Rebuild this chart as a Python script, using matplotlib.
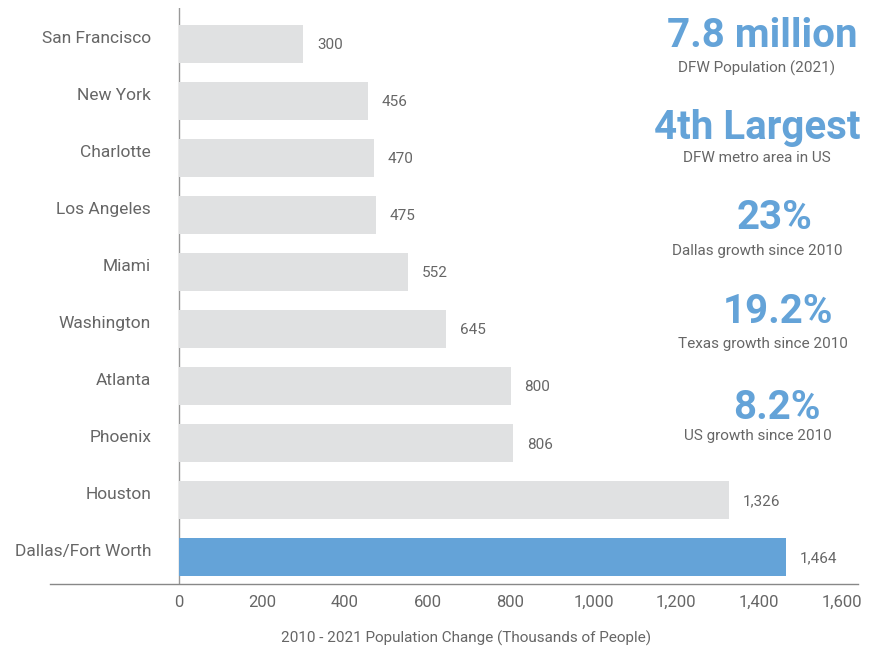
import matplotlib
matplotlib.use("Agg")
import matplotlib.pyplot as plt

cities = ["San Francisco", "New York", "Charlotte", "Los Angeles", "Miami",
          "Washington", "Atlanta", "Phoenix", "Houston", "Dallas/Fort Worth"]
values = [300, 456, 470, 475, 552, 645, 800, 806, 1326, 1464]
value_labels = ["300", "456", "470", "475", "552", "645", "800", "806", "1,326", "1,464"]
xticks = [0, 200, 400, 600, 800, 1000, 1200, 1400, 1600]
xtick_labels = ["0", "200", "400", "600", "800", "1,000", "1,200", "1,400", "1,600"]
xlabel = "2010 - 2021 Population Change (Thousands of People)"
stats_big = ["7.8 million", "4th Largest", "23%", "19.2%", "8.2%"]
stats_small = ["DFW Population (2021)", "DFW metro area in US", "Dallas growth since 2010",
               "Texas growth since 2010", "US growth since 2010"]

BLUE = "#64a3d8"
GRAY_BAR = "#e0e1e2"
TXT = "#666666"
FONT = ["Roboto", "DejaVu Sans"]
NARROW = ["Liberation Sans Narrow", "Roboto", "DejaVu Sans"]

W, H = 883, 649
fig = plt.figure(figsize=(W / 100, H / 100), dpi=100)
ax = fig.add_axes([50 / W, 1 - 584 / H, (858 - 50) / W, (584 - 8) / H])

ypos = list(range(len(cities)))
colors = [GRAY_BAR] * (len(cities) - 1) + [BLUE]
ax.barh(ypos, values, height=0.67, color=colors, zorder=2)

ax.set_xlim(-311, 1638)
ax.set_ylim(9.47, -0.63)

for s in ["top", "right", "left"]:
    ax.spines[s].set_visible(False)
ax.spines["bottom"].set_color("#888888")
ax.spines["bottom"].set_linewidth(1.0)
ax.axvline(0, color="#999999", lw=1.0, zorder=1)

ax.set_yticks([])
ax.set_xticks(xticks)
ax.set_xticklabels(xtick_labels, family=NARROW, fontsize=12, color=TXT)
ax.tick_params(axis="x", length=0, pad=8)

for y, c in zip(ypos, cities):
    ax.annotate(c, xy=(0, y), xytext=(-20, 4), textcoords="offset points",
                ha="right", va="center", fontsize=12.5, color=TXT, family=FONT)

for y, v, lab in zip(ypos, values, value_labels):
    ax.annotate(lab, xy=(v, y), xytext=(10, -1), textcoords="offset points",
                ha="left", va="center", fontsize=11, color=TXT, family=NARROW)

fig.text(466 / W, 1 - 638 / H, xlabel, ha="center", va="center",
         fontsize=11, color=TXT, family=NARROW)

big_pos = [(762, 36), (757, 128), (775, 218), (778, 312), (777, 408)]
small_pos = [(757, 68), (757, 158), (757, 251), (763, 344), (758, 436)]
for t, (x, y) in zip(stats_big, big_pos):
    fig.text(x / W, 1 - y / H, t, ha="center", va="center", fontsize=29,
             fontweight="bold", color=BLUE, family=FONT)
for t, (x, y) in zip(stats_small, small_pos):
    fig.text(x / W, 1 - y / H, t, ha="center", va="center", fontsize=11,
             color=TXT, family=NARROW)

fig.savefig("out.png", dpi=100)
